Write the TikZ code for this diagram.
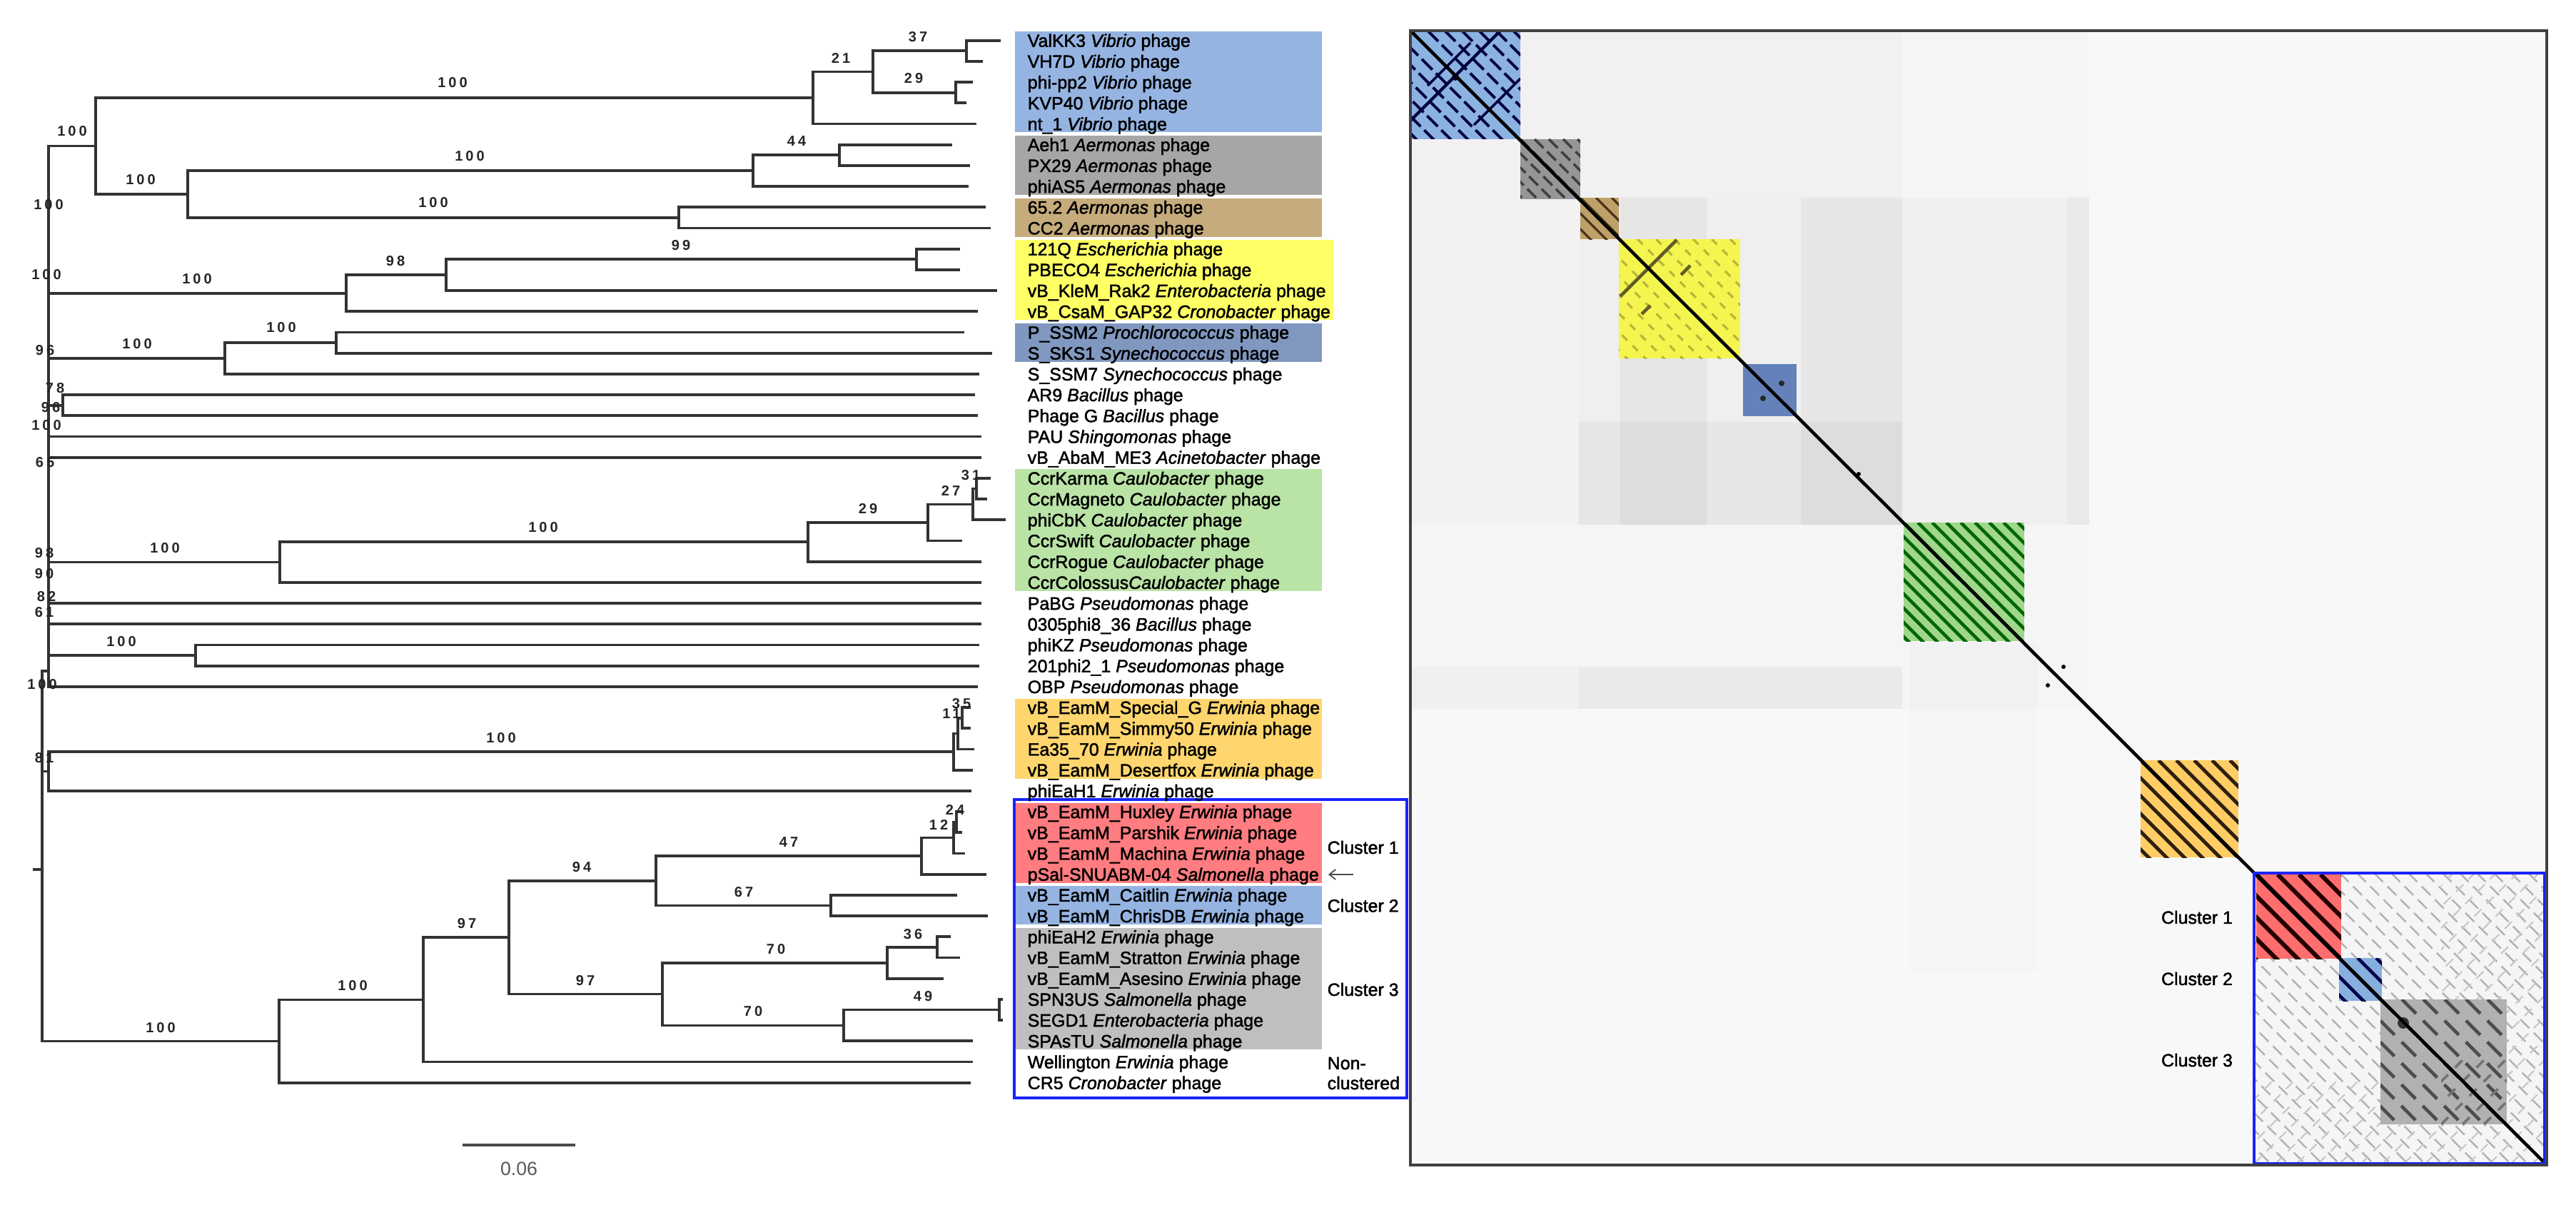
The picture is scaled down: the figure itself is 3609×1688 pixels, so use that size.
\documentclass[tikz,border=0pt]{standalone}
\usepackage{fontspec}
\setmainfont{Liberation Sans}
\newfontfamily\labfont[FakeBold=1.8]{Liberation Sans}
\newfontfamily\bsfont[LetterSpace=20]{Liberation Sans}
\usetikzlibrary{arrows.meta}
\definecolor{cVib}{RGB}{149,180,226}
\definecolor{cAer}{RGB}{166,166,166}
\definecolor{cTan}{RGB}{198,172,124}
\definecolor{cYel}{RGB}{255,255,102}
\definecolor{cCya}{RGB}{128,152,192}
\definecolor{cCau}{RGB}{186,227,166}
\definecolor{cOra}{RGB}{255,214,110}
\definecolor{cRed}{RGB}{255,124,128}
\definecolor{cClt}{RGB}{149,180,226}
\definecolor{cClg}{RGB}{192,190,192}
\definecolor{cFrame}{RGB}{25,35,255}
\definecolor{hVib}{RGB}{140,178,225}
\definecolor{hAer}{RGB}{150,150,150}
\definecolor{hTan}{RGB}{190,160,105}
\definecolor{hYel}{RGB}{245,245,80}
\definecolor{hCya}{RGB}{100,130,185}
\definecolor{hCau}{RGB}{160,215,140}
\definecolor{hOra}{RGB}{255,205,100}
\definecolor{hRed}{RGB}{255,110,110}
\definecolor{hClt}{RGB}{135,175,222}
\definecolor{hClg}{RGB}{178,176,178}
\newcommand\blockstripes[6]{%
  \begin{scope}
    \clip (#1,#2) rectangle (#3,#4);
    \foreach \k in {-24,...,24} \draw[#6] ({#1+\k*#5},#2) -- ++(450,450);
  \end{scope}}
\newcommand\blockstripesup[6]{%
  \begin{scope}
    \clip (#1,#2) rectangle (#3,#4);
    \foreach \k in {-24,...,24} \draw[#6] ({#1+\k*#5},#4) -- ++(450,-450);
  \end{scope}}
\begin{document}
\begin{tikzpicture}[x=0.01cm,y=-0.01cm,
  br/.style={line width=1.05pt, draw=black!80},
  lab/.style={anchor=west, inner sep=0pt, text height=5.1pt, text depth=0pt, font=\labfont\fontsize{7.1pt}{8pt}\selectfont},
  clu/.style={anchor=west, inner sep=0pt, text height=5.1pt, text depth=0pt, font=\labfont\fontsize{7.1pt}{8pt}\selectfont},
  hclu/.style={inner sep=0pt, text height=5.1pt, text depth=0pt, font=\labfont\fontsize{7.1pt}{8pt}\selectfont},
  bs/.style={inner sep=0pt, text=black!85, font=\bsfont\bfseries\fontsize{5.7pt}{6pt}\selectfont}]
\useasboundingbox (0,0) rectangle (3609,1688);
\fill[white] (0,0) rectangle (3609,1688);

% ---------------- label backgrounds ----------------
\fill[cVib] (1422,44.2) rectangle (1852,185.5);
\fill[cAer] (1422,190.2) rectangle (1852,273.1);
\fill[cTan] (1422,277.8) rectangle (1852,331.5);
\fill[cYel] (1422,336.2) rectangle (1868,448.3);
\fill[cCya] (1422,453) rectangle (1852,506.7);
\fill[cCau] (1422,657.4) rectangle (1852,827.9);
\fill[cOra] (1422,978.6) rectangle (1852,1090.7);
\fill[cRed] (1422,1124.6) rectangle (1852,1236.7);
\fill[cClt] (1422,1241.4) rectangle (1852,1295.1);
\fill[cClg] (1422,1299.8) rectangle (1852,1470.3);
\draw[cFrame, line width=1.1pt] (1421,1120) rectangle (1971,1538);

% ---------------- labels ----------------
\node[lab] (l1) at (1439,56.7) {ValKK3 \textit{Vibrio} phage};
\node[lab] (l2) at (1439,85.9) {VH7D \textit{Vibrio} phage};
\node[lab] (l3) at (1439,115.1) {phi-pp2 \textit{Vibrio} phage};
\node[lab] (l4) at (1439,144.3) {KVP40 \textit{Vibrio} phage};
\node[lab] (l5) at (1439,173.5) {nt\_1 \textit{Vibrio} phage};
\node[lab] (l6) at (1439,202.7) {Aeh1 \textit{Aermonas} phage};
\node[lab] (l7) at (1439,231.9) {PX29 \textit{Aermonas} phage};
\node[lab] (l8) at (1439,261.1) {phiAS5 \textit{Aermonas} phage};
\node[lab] (l9) at (1439,290.3) {65.2 \textit{Aermonas} phage};
\node[lab] (l10) at (1439,319.5) {CC2 \textit{Aermonas} phage};
\node[lab] (l11) at (1439,348.7) {121Q \textit{Escherichia} phage};
\node[lab] (l12) at (1439,377.9) {PBECO4 \textit{Escherichia} phage};
\node[lab] (l13) at (1439,407.1) {vB\_KleM\_Rak2 \textit{Enterobacteria} phage};
\node[lab] (l14) at (1439,436.3) {vB\_CsaM\_GAP32 \textit{Cronobacter} phage};
\node[lab] (l15) at (1439,465.5) {P\_SSM2 \textit{Prochlorococcus} phage};
\node[lab] (l16) at (1439,494.7) {S\_SKS1 \textit{Synechococcus} phage};
\node[lab] (l17) at (1439,523.9) {S\_SSM7 \textit{Synechococcus} phage};
\node[lab] (l18) at (1439,553.1) {AR9 \textit{Bacillus} phage};
\node[lab] (l19) at (1439,582.3) {Phage G \textit{Bacillus} phage};
\node[lab] (l20) at (1439,611.5) {PAU \textit{Shingomonas} phage};
\node[lab] (l21) at (1439,640.7) {vB\_AbaM\_ME3 \textit{Acinetobacter} phage};
\node[lab] (l22) at (1439,669.9) {CcrKarma \textit{Caulobacter} phage};
\node[lab] (l23) at (1439,699.1) {CcrMagneto \textit{Caulobacter} phage};
\node[lab] (l24) at (1439,728.3) {phiCbK \textit{Caulobacter} phage};
\node[lab] (l25) at (1439,757.5) {CcrSwift \textit{Caulobacter} phage};
\node[lab] (l26) at (1439,786.7) {CcrRogue \textit{Caulobacter} phage};
\node[lab] (l27) at (1439,815.9) {CcrColossus\textit{Caulobacter} phage};
\node[lab] (l28) at (1439,845.1) {PaBG \textit{Pseudomonas} phage};
\node[lab] (l29) at (1439,874.3) {0305phi8\_36 \textit{Bacillus} phage};
\node[lab] (l30) at (1439,903.5) {phiKZ \textit{Pseudomonas} phage};
\node[lab] (l31) at (1439,932.7) {201phi2\_1 \textit{Pseudomonas} phage};
\node[lab] (l32) at (1439,961.9) {OBP \textit{Pseudomonas} phage};
\node[lab] (l33) at (1439,991.1) {vB\_EamM\_Special\_G \textit{Erwinia} phage};
\node[lab] (l34) at (1439,1020.3) {vB\_EamM\_Simmy50 \textit{Erwinia} phage};
\node[lab] (l35) at (1439,1049.5) {Ea35\_70 \textit{Erwinia} phage};
\node[lab] (l36) at (1439,1078.7) {vB\_EamM\_Desertfox \textit{Erwinia} phage};
\node[lab] (l37) at (1439,1107.9) {phiEaH1 \textit{Erwinia} phage};
\node[lab] (l38) at (1439,1137.1) {vB\_EamM\_Huxley \textit{Erwinia} phage};
\node[lab] (l39) at (1439,1166.3) {vB\_EamM\_Parshik \textit{Erwinia} phage};
\node[lab] (l40) at (1439,1195.5) {vB\_EamM\_Machina \textit{Erwinia} phage};
\node[lab] (l41) at (1439,1224.7) {pSal-SNUABM-04 \textit{Salmonella} phage};
\node[lab] (l42) at (1439,1253.9) {vB\_EamM\_Caitlin \textit{Erwinia} phage};
\node[lab] (l43) at (1439,1283.1) {vB\_EamM\_ChrisDB \textit{Erwinia} phage};
\node[lab] (l44) at (1439,1312.3) {phiEaH2 \textit{Erwinia} phage};
\node[lab] (l45) at (1439,1341.5) {vB\_EamM\_Stratton \textit{Erwinia} phage};
\node[lab] (l46) at (1439,1370.7) {vB\_EamM\_Asesino \textit{Erwinia} phage};
\node[lab] (l47) at (1439,1399.9) {SPN3US \textit{Salmonella} phage};
\node[lab] (l48) at (1439,1429.1) {SEGD1 \textit{Enterobacteria} phage};
\node[lab] (l49) at (1439,1458.3) {SPAsTU \textit{Salmonella} phage};
\node[lab] (l50) at (1439,1487.5) {Wellington \textit{Erwinia} phage};
\node[lab] (l51) at (1439,1516.7) {CR5 \textit{Cronobacter} phage};

\node[clu] (cl1) at (1859,1187) {Cluster 1};
\node[clu] (cl2) at (1859,1268.5) {Cluster 2};
\node[clu] (cl3) at (1859,1386) {Cluster 3};
\node[clu] (ncl1) at (1859,1489) {Non-};
\node[clu] (ncl2) at (1859,1517) {clustered};
\coordinate (arS) at (1896,1225);
\coordinate (arE) at (1861,1225);
\draw[black!70, line width=0.5pt, -{Straight Barb[length=2.5pt,width=4pt]}] (arS) -- (arE);

% ---------------- tree ----------------
\foreach \i/\xe in {1/1402,2/1377,3/1363,4/1354,5/1368,6/1334,7/1359,8/1357,9/1381,10/1388,
  11/1345,12/1345,13/1397,14/1370,15/1351,16/1390,17/1372,18/1366,19/1370,20/1375,
  21/1375,22/1388,23/1383,24/1409,25/1348,26/1375,27/1375,28/1375,29/1375,30/1372,
  31/1372,32/1370,33/1360,34/1360,35/1365,36/1363,37/1361,38/1348,39/1348,40/1352,
  41/1382,42/1341,43/1384,44/1332,45/1345,46/1322,47/1405,48/1405,49/1363,50/1363,51/1360}
  \coordinate (t\i) at (\xe,{56.7+29.2*(\i-1)});
\coordinate (v37) at (1354,71.3);
\coordinate (v29) at (1339,129.7);
\coordinate (v21) at (1223,100.5);
\coordinate (v100) at (1139,137);
\coordinate (a44) at (1176,217.3);
\coordinate (aA) at (1055,239.2);
\coordinate (aB) at (951,304.9);
\coordinate (a100) at (263,272);
\coordinate (va) at (134,204.5);
\coordinate (e99) at (1284,363.3);
\coordinate (e98) at (625,385.2);
\coordinate (e100) at (485,410.8);
\coordinate (cy1) at (471,480.1);
\coordinate (cy) at (315,502);
\coordinate (n78) at (88,567.7);
\coordinate (k31) at (1368,684.5);
\coordinate (k27) at (1363,706.4);
\coordinate (k29) at (1300,732);
\coordinate (kA) at (1132,759.3);
\coordinate (k100) at (392,787.6);
\coordinate (p100) at (274,918.1);
\coordinate (o35) at (1348,1005.7);
\coordinate (o11) at (1342,1027.6);
\coordinate (o100) at (1336,1053.2);
\coordinate (n81) at (68,1080.5);
\coordinate (c24) at (1340,1151.7);
\coordinate (c12) at (1336,1173.6);
\coordinate (c47) at (1291,1199.2);
\coordinate (c67) at (1164,1268.5);
\coordinate (c94) at (919,1233.8);
\coordinate (c36) at (1313,1326.9);
\coordinate (cA) at (1243,1348.8);
\coordinate (c49) at (1400,1414.5);
\coordinate (cB) at (1182,1436.4);
\coordinate (c97b) at (928,1392.6);
\coordinate (c97a) at (713,1313.2);
\coordinate (qA) at (593,1400.4);
\coordinate (q100) at (391,1458.6);
\coordinate (sp) at (68,583);
\coordinate (spj) at (68,940);
\coordinate (rt) at (59,1218);
\coordinate (rstem) at (46,1218);
\foreach \p/\c in {v37/t1,v37/t2,v29/t3,v29/t4,v21/v37,v21/v29,v100/v21,v100/t5,
  a44/t6,a44/t7,aA/a44,aA/t8,aB/t9,aB/t10,a100/aA,a100/aB,va/v100,va/a100,
  e99/t11,e99/t12,e98/e99,e98/t13,e100/e98,e100/t14,cy1/t15,cy1/t16,cy/cy1,cy/t17,
  n78/t18,n78/t19,k31/t22,k31/t23,k27/k31,k27/t24,k29/k27,k29/t25,kA/k29,kA/t26,
  k100/kA,k100/t27,p100/t30,p100/t31,o35/t33,o35/t34,o11/o35,o11/t35,o100/o11,o100/t36,
  n81/o100,n81/t37,c24/t38,c24/t39,c12/c24,c12/t40,c47/c12,c47/t41,c67/t42,c67/t43,
  c94/c47,c94/c67,c36/t44,c36/t45,cA/c36,cA/t46,c49/t47,c49/t48,cB/c49,cB/t49,
  c97b/cA,c97b/cB,c97a/c94,c97a/c97b,qA/c97a,qA/t50,q100/qA,q100/t51,
  sp/va,sp/e100,sp/cy,sp/n78,sp/t20,sp/t21,sp/k100,sp/t28,sp/t29,sp/p100,sp/t32,
  rt/spj,rt/n81,rt/q100}
  \draw[br] (\p) |- (\c);
\draw[br] (rt) -- (rstem);

% bootstrap values
\foreach \x/\y/\v [count=\n] in {1286/52/37,1280/110/29,1178/82/21,634/116/100,101/184/100,
  1116/198/44,658/219/100,197/252/100,607/284/100,68/287/100,954/344/99,554/366/98,
  65/385/100,276/391/100,394/459/100,192/482/100,63/491/96,77/544/78,71/571/96,
  65/596/100,63/648/65,1360/666/31,1332/687/27,1216/713/29,761/739/100,231/768/100,
  62/775/98,62/804/90,65/836/82,62/858/61,170/899/100,59/959/100,1347/986/35,
  1333/1000/11,702/1034/100,62/1062/81,1338/1134/24,1315/1155/12,1105/1180/47,
  815/1215/94,1042/1250/67,654/1294/97,1279/1309/36,1087/1330/70,820/1374/97,
  494/1381/100,1293/1396/49,1055/1417/70,225/1440/100}
  \node[bs] (bv\n) at (\x,\y) {\v};

% scale bar
\coordinate (sb0) at (648,1604);
\coordinate (sb1) at (806,1604);
\draw[line width=1.1pt, black!70] (sb0) -- (sb1);
\node[inner sep=0pt, text=black!65, font=\fontsize{7.6pt}{9pt}\selectfont] (sbl) at (727,1637) {0.06};

% ---------------- heat map ----------------
\coordinate (hm0) at (1976,43);
\coordinate (hm1) at (3568,1632);
\fill[black!4] (hm0) rectangle (hm1);
\fill[black, opacity=0.015] (1976,43) rectangle (2665,277);
\fill[black, opacity=0.012] (1976,277) rectangle (2212,735);
\fill[black, opacity=0.025] (2212,277) rectangle (2927,735);
\fill[black, opacity=0.035] (2270,277) rectangle (2391,735);
\fill[black, opacity=0.035] (2523,277) rectangle (2665,735);
\fill[black, opacity=0.035] (2212,591) rectangle (2665,735);
\fill[black, opacity=0.025] (2896,277) rectangle (2927,735);
\fill[black, opacity=0.045] (2212,934) rectangle (2665,993);
\fill[black, opacity=0.02] (1976,934) rectangle (2212,993);
\fill[black, opacity=0.015] (2675,900) rectangle (2854,1360);
\fill[white, opacity=0.35] (2927,43) rectangle (3568,1632);
\fill[white, opacity=0.35] (1976,993) rectangle (2927,1632);

% cluster region
\fill[white!96!black] (3158,1223) rectangle (3565,1630);
\blockstripes{3158}{1223}{3565}{1630}{24}{black!30, line width=0.7pt, dash pattern=on 5pt off 2.5pt}
\blockstripesup{3158}{1510}{3565}{1630}{30}{black!22, line width=0.6pt, dash pattern=on 4pt off 3pt}
\blockstripesup{3420}{1223}{3565}{1510}{30}{black!22, line width=0.6pt, dash pattern=on 4pt off 3pt}

% blocks
\fill[hVib] (1976,43) rectangle (2130,195);
\blockstripes{1976}{43}{2130}{195}{24}{black!75!blue, line width=1.1pt, dash pattern=on 6pt off 2pt}
\begin{scope}
  \clip (1976,43) rectangle (2130,195);
  \draw[black!75!blue, line width=1.2pt] (2102,43) -- (1976,169);
  \draw[black!75!blue, line width=1pt] (2130,110) -- (2065,175);
  \draw[black!75!blue, line width=1pt] (2060,60) -- (2000,120);
\end{scope}
\fill[black!80!blue] (2039,108) circle (5);

\fill[hAer] (2130,195) rectangle (2214,279);
\blockstripes{2130}{195}{2214}{279}{20}{black!75, line width=1pt, dash pattern=on 5pt off 2pt}

\fill[hTan] (2214,277) rectangle (2268,335);
\blockstripes{2214}{277}{2268}{335}{22}{black!60!brown, line width=0.9pt}

\fill[hYel] (2268,335) rectangle (2438,502);
\blockstripes{2268}{335}{2438}{502}{26}{black!25!olive, opacity=0.45, line width=0.9pt, dash pattern=on 3pt off 3pt}
\draw[black!40!olive, line width=1.3pt] (2349,336) -- (2270,415);
\draw[black!40!olive, line width=1.3pt] (2355,385) -- (2368,372);
\draw[black!40!olive, line width=1.3pt] (2300,440) -- (2312,428);

\fill[hCya] (2442,510) rectangle (2517,583);
\fill[black!85] (2496,537) circle (4);
\fill[black!85] (2470,558) circle (4);

\fill[hCau] (2667,732) rectangle (2836,898);
\blockstripes{2667}{732}{2836}{898}{20}{black!60!green, line width=1.3pt}

\fill[hOra] (2999,1065) rectangle (3136,1201);
\blockstripes{2999}{1065}{3136}{1201}{25}{black!75!brown, line width=1.4pt}

\fill[hRed] (3161,1225) rectangle (3280,1343);
\blockstripes{3161}{1225}{3280}{1343}{30}{black!85!red, line width=1.7pt}

\fill[hClt] (3277,1342) rectangle (3337,1402);
\blockstripes{3277}{1342}{3337}{1402}{26}{black!70!blue, line width=1.3pt}

\fill[hClg] (3335,1400) rectangle (3512,1575);
\blockstripes{3335}{1400}{3512}{1575}{30}{black!70, line width=1.3pt, dash pattern=on 8pt off 4pt}
\blockstripesup{3420}{1480}{3512}{1575}{30}{black!55, line width=1pt, dash pattern=on 4pt off 4pt}
\fill[black!80] (3367,1433) circle (8);

% small dots near diagonal
\fill[black] (2891,934) circle (3);
\fill[black] (2869,960) circle (3);
\fill[black] (2604,664) circle (3);

% main diagonal
\draw[black, line width=1.3pt] (hm0) -- (hm1);

% cluster frame and labels
\draw[cFrame, line width=1.1pt] (3158,1223) rectangle (3565,1630);
\node[hclu] (hc1) at (3078,1285) {Cluster 1};
\node[hclu] (hc2) at (3078,1371) {Cluster 2};
\node[hclu] (hc3) at (3078,1485) {Cluster 3};

% frame
\draw[black!75, line width=0.9pt] (hm0) rectangle (hm1);
\end{tikzpicture}
\end{document}
